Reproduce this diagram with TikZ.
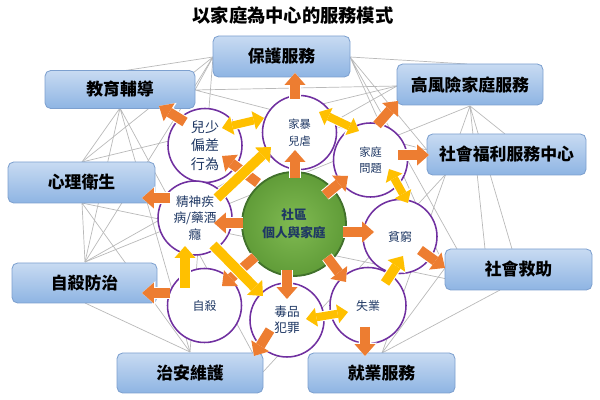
\documentclass[tikz,border=0pt]{standalone}
\usepackage{fontspec}
\newfontfamily\cjk{Noto Sans CJK TC}
\usetikzlibrary{arrows.meta}
\definecolor{boxtop}{RGB}{200,219,242}
\definecolor{boxbot}{RGB}{142,180,227}
\definecolor{boxedge}{RGB}{125,160,207}
\definecolor{orangeC}{RGB}{237,125,49}
\definecolor{yellowC}{RGB}{255,192,0}
\definecolor{purpleC}{RGB}{112,48,160}
\definecolor{navy}{RGB}{31,56,100}
\definecolor{greenIn}{RGB}{128,186,82}
\definecolor{greenOut}{RGB}{96,156,56}
\definecolor{greenD}{RGB}{65,113,43}
\definecolor{webgray}{RGB}{185,185,185}
\def\u{0.025cm}
\tikzset{
  every node/.style={font=\cjk},
  svcbox/.style={rectangle, rounded corners=4pt, top color=boxtop, bottom color=boxbot,
    draw=boxedge, line width=0.6pt, inner sep=0pt, text=black,
    font=\cjk\bfseries\fontsize{12}{14}\selectfont},
  issue/.style={circle, draw=purpleC, line width=1.1pt, fill=white, minimum size=74*\u,
    inner sep=0pt, align=center, text=navy, font=\cjk\fontsize{8.5}{12}\selectfont},
  core/.style={circle, draw=greenD, line width=1.3pt, inner color=greenIn, outer color=greenOut,
    minimum size=104*\u, inner sep=0pt, align=center, text=navy,
    font=\cjk\bfseries\fontsize{9}{13}\selectfont},
  web/.style={draw=webgray, line width=0.5pt},
  oarr/.style={draw=orangeC, line width=7pt,
    preaction={draw=white, line width=8.4pt, -{Triangle[width=17pt,length=9.5pt,line width=0pt]}},
    -{Triangle[width=15pt,length=8.5pt,line width=0pt]}},
  yarr/.style={draw=yellowC, line width=7pt,
    preaction={draw=white, line width=8.4pt, -{Triangle[width=17pt,length=9.5pt,line width=0pt]}},
    -{Triangle[width=15pt,length=8.5pt,line width=0pt]}},
  yarrd/.style={draw=yellowC, line width=5.7pt,
    preaction={draw=white, line width=7.1pt, {Triangle[width=15.5pt,length=8.5pt,line width=0pt]}-{Triangle[width=15.5pt,length=8.5pt,line width=0pt]}},
    {Triangle[width=13.5pt,length=7.5pt,line width=0pt]}-{Triangle[width=13.5pt,length=7.5pt,line width=0pt]}},
}
\begin{document}
\begin{tikzpicture}[x=0.025cm,y=-0.025cm]
\useasboundingbox (0,0) rectangle (600,400);
% hub points of the web
\coordinate (Et) at (122,71);
\coordinate (Eb) at (120,108);
\coordinate (Er) at (195,90);
\coordinate (Pl) at (213,57);
\coordinate (Pr) at (350,57);
\coordinate (Ht) at (467,64);
\coordinate (Hl) at (397,86);
\coordinate (Hb) at (470,106);
\coordinate (Wl) at (427,150);
\coordinate (Wt) at (505,134);
\coordinate (Wbl) at (445,175);
\coordinate (Rt1) at (485,249);
\coordinate (Rt2) at (512,249);
\coordinate (Rt3) at (457,249);
\coordinate (Rl) at (445,268);
\coordinate (Rbl) at (500,290);
\coordinate (Jt) at (382,353);
\coordinate (Zt) at (190,352);
\coordinate (Zr) at (263,372);
\coordinate (St) at (85,262);
\coordinate (Sb) at (85,303);
\coordinate (Mt) at (82,162);
\coordinate (Mb) at (82,203);
% web of thin lines
\draw[web] (Et)--(Pl) (Er)--(Pl) (Er)--(Hl) (Er)--(Wl);
\draw[web] (Pl)--(Zt) (Pl)--(St) (Pl)--(Mt);
\draw[web] (Pr)--(Ht) (Pr)--(Wl) (Pr)--(Rl) (Pr)--(Rt3);
\draw[web] (Hb)--(St) (Hb)--(Jt) (Hb)--(Rt1) (Hb)--(Rt2) (Hb)--(Wt);
\draw[web] (Rl)--(Jt) (Rbl)--(Jt);
\draw[web] (Eb)--(Mt) (Eb)--(St) (Eb)--(Zt) (Eb)--(Zr);
\draw[web] (Mt)--(Hl) (Mb)--(St) (Mb)--(Zt) (Mb)--(Rbl);
\draw[web] (St)--(Hl) (Sb)--(Zt) (Zr)--(Wbl);
% title
\node[font=\cjk\bfseries\fontsize{13}{15}\selectfont] (title) at (293,15) {以家庭為中心的服務模式};
% service boxes
\node[svcbox, minimum width=137*\u, minimum height=41*\u] (prot) at (281.5,56.5) {保護服務};
\node[svcbox, minimum width=150*\u, minimum height=38*\u] (edu) at (120,89.5) {教育輔導};
\node[svcbox, minimum width=147*\u, minimum height=41*\u] (mental) at (81.5,182.5) {心理衛生};
\node[svcbox, minimum width=145*\u, minimum height=40*\u] (suiprev) at (84.5,283) {自殺防治};
\node[svcbox, minimum width=146*\u, minimum height=40*\u] (police) at (190,373) {治安維護};
\node[svcbox, minimum width=147*\u, minimum height=40*\u] (employ) at (381.5,373) {就業服務};
\node[svcbox, minimum width=147*\u, minimum height=41*\u] (relief) at (518.5,269.5) {社會救助};
\node[svcbox, minimum width=159*\u, minimum height=41*\u] (welfare) at (506.5,154.5) {社會福利服務中心};
\node[svcbox, minimum width=146*\u, minimum height=41*\u] (risk) at (470,84.5) {高風險家庭服務};
% issue circles
\node[issue, font=\cjk\fontsize{10}{13}\selectfont] (youth) at (205,145.5) {兒少\\偏差\\行為};
\node[issue, font=\cjk\fontsize{8}{12}\selectfont] (abuse) at (299.5,132.5) {家暴\\兒虐};
\node[issue, font=\cjk\fontsize{8}{11}\selectfont] (family) at (370.5,160) {家庭\\問題};
\node[issue, font=\cjk\fontsize{9}{11.5}\selectfont] (psych) at (195,218) {精神疾\\病/藥酒\\癮};
\node[issue] (poor) at (400,236.5) {貧窮};
\node[issue, minimum size=76*\u] (jobless) at (368,305.5) {失業};
\node[issue] (suicide) at (204.5,305.5) {自殺};
\node[issue, font=\cjk\fontsize{9}{11.5}\selectfont] (drug) at (287,320) {毒品\\犯罪};
\node[core] (comm) at (294,224) {社區\\個人與家庭};
% orange arrows
\draw[oarr] (295,99) -- (295,73);
\draw[oarr] (295,178) -- (295,150);
\draw[oarr] (258,183) -- (222,156);
\draw[oarr] (185,122) -- (159,106);
\draw[oarr] (170,198) -- (142,198);
\draw[oarr] (243,223) -- (214,223);
\draw[oarr] (255,257) -- (222,286);
\draw[oarr] (170,293) -- (142,293);
\draw[oarr] (287,270) -- (287,299);
\draw[oarr] (270,330) -- (254,356);
\draw[oarr] (327,257) -- (346,282);
\draw[oarr] (365,327) -- (365,356);
\draw[oarr] (343,232) -- (374,232);
\draw[oarr] (420,250) -- (445,268);
\draw[oarr] (325,195) -- (348,176);
\draw[oarr] (398,155) -- (429,155);
\draw[oarr] (377,125) -- (398,101);
% yellow arrows
\draw[yarrd] (222,128) -- (264,118);
\draw[yarrd] (319,112) -- (359,131);
\draw[yarrd] (389,169) -- (408,203);
\draw[yarrd] (306,319) -- (348,312);
\draw[yarr] (217,198) -- (271,147);
\draw[yarr] (185,288) -- (185,246);
\draw[yarr] (213,245) -- (263,296);
\draw[yarr] (385,283) -- (403,256);
\end{tikzpicture}
\end{document}
